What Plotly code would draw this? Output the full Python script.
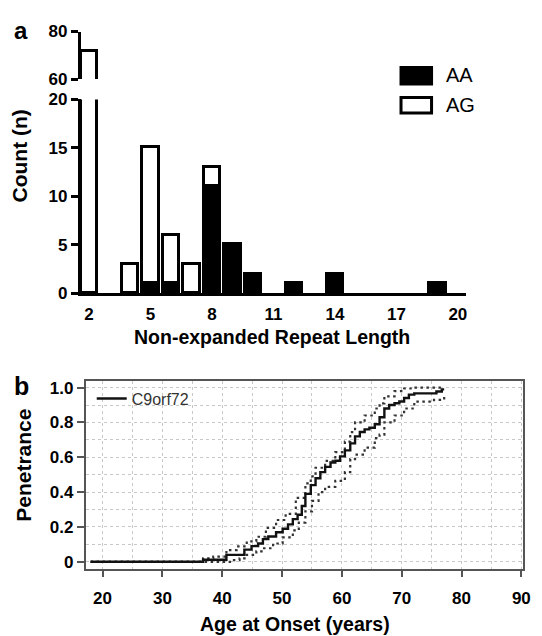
import plotly.graph_objects as go

# ---------------- data ----------------
# panel a: counts by non-expanded repeat length
repeat_len = [2, 4, 5, 6, 7, 8, 9, 10, 12, 14, 19]
count_aa = [None, None, 1, 1, None, 11, 5, 2, 1, 2, 1]
count_ag = [72, 3, 14, 5, 3, 2, None, None, None, None, None]
a_xticks = [2, 5, 8, 11, 14, 17, 20]
a_yticks_low = [0, 5, 10, 15, 20]
a_yticks_high = [60, 80]

# panel b: penetrance (Kaplan-Meier style) with confidence band
age_est = [18, 36.8, 40.7, 43.7, 44.9, 46.0, 46.8, 47.7, 49.0, 50.1, 51.0, 51.8,
           52.6, 53.3, 53.9, 54.8, 55.6, 56.4, 57.2, 58.1, 58.9, 59.7, 60.5, 61.4,
           62.2, 63.0, 63.8, 64.6, 65.5, 66.3, 67.1, 67.9, 68.8, 69.6, 70.4, 71.2,
           72.1, 75.8, 76.7, 77.1]
pen_est = [0, 0.012, 0.04, 0.07, 0.09, 0.105, 0.13, 0.145, 0.17, 0.19, 0.215, 0.245,
           0.27, 0.32, 0.39, 0.44, 0.48, 0.515, 0.545, 0.57, 0.58, 0.605, 0.64, 0.68,
           0.72, 0.745, 0.76, 0.77, 0.79, 0.83, 0.88, 0.90, 0.91, 0.92, 0.94, 0.96,
           0.967, 0.978, 0.99, 0.99]
age_up = [18, 36.8, 38.5, 40.7, 42.4, 44.1, 45.7, 47.3, 49.0, 50.6, 52.3, 53.9, 54.8,
          55.6, 57.2, 58.9, 60.5, 61.4, 62.2, 63.8, 65.5, 66.3, 67.1, 68.8, 70.4, 72.1, 77.1]
pen_up = [0, 0.02, 0.03, 0.067, 0.089, 0.117, 0.144, 0.195, 0.24, 0.275, 0.367, 0.45, 0.49,
          0.54, 0.58, 0.63, 0.69, 0.745, 0.8, 0.84, 0.88, 0.91, 0.95, 0.98, 0.995, 1.0, 1.0]
age_lo = [18, 41.3, 42.9, 44.1, 45.7, 46.8, 48.5, 50.1, 51.8, 52.8, 53.9, 55.0, 56.1,
          57.2, 58.9, 60.5, 61.4, 62.2, 63.8, 65.5, 66.3, 67.1, 68.8, 70.4, 72.1, 75.4, 77.1]
pen_lo = [0, 0.01, 0.02, 0.04, 0.06, 0.078, 0.105, 0.14, 0.18, 0.225, 0.29, 0.35, 0.4,
          0.43, 0.465, 0.515, 0.59, 0.615, 0.655, 0.71, 0.73, 0.8, 0.84, 0.88, 0.92, 0.93, 0.95]
b_xticks = [20, 30, 40, 50, 60, 70, 80, 90]
b_yticks = [0, 0.2, 0.4, 0.6, 0.8, 1.0]
b_yticklabels = ["0", "0.2", "0.4", "0.6", "0.8", "1.0"]

# ---------------- layout helpers ----------------
# the page body has an 8px margin, so the figure is drawn 8px smaller and
# all positions below are given in window pixels
OFF = 8
W, H = 542 - OFF, 636 - OFF
FONT = "Liberation Sans, Arial, sans-serif"


def px(x):
    return (x - OFF) / W


def py(y):
    return 1 - (y - OFF) / H


fig = go.Figure()

bar_line = dict(color="black", width=3)
for xa, ya in (("x", "y"), ("x2", "y2")):
    fig.add_trace(go.Bar(x=repeat_len, y=count_aa, width=0.8, name="AA",
                         marker=dict(color="black", line=bar_line),
                         xaxis=xa, yaxis=ya, showlegend=False))
    fig.add_trace(go.Bar(x=repeat_len, y=count_ag, width=0.8, name="AG",
                         marker=dict(color="white", line=bar_line),
                         xaxis=xa, yaxis=ya, showlegend=False))

dot_style = dict(color="#333333", width=2.2, dash="2.5px,3.5px", shape="hv")
fig.add_trace(go.Scatter(x=age_up, y=pen_up, mode="lines", line=dot_style,
                         xaxis="x3", yaxis="y3", showlegend=False, name="upper"))
fig.add_trace(go.Scatter(x=age_lo, y=pen_lo, mode="lines", line=dot_style,
                         xaxis="x3", yaxis="y3", showlegend=False, name="lower"))
fig.add_trace(go.Scatter(x=age_est, y=pen_est, mode="lines", name="C9orf72",
                         line=dict(color="#111111", width=2.4, shape="hv"),
                         xaxis="x3", yaxis="y3", showlegend=True))

tickfont = dict(family=FONT, size=17, color="black", weight="bold")
a_xdom = [px(82), px(473)]
b_grid = dict(showgrid=True, gridcolor="#c8c8c8", griddash="dot", gridwidth=1)

fig.update_layout(
    width=W, height=H, autosize=False,
    margin=dict(l=0, r=0, t=0, b=0, pad=0),
    paper_bgcolor="white", plot_bgcolor="white",
    barmode="stack", bargap=0,
    font=dict(family=FONT, color="black"),
    xaxis=dict(domain=a_xdom, anchor="y", range=[1.6, 20.4],
               tickvals=a_xticks, ticks="outside", ticklen=3,
               tickcolor="rgba(0,0,0,0)", tickfont=tickfont,
               showline=True, linecolor="black", linewidth=3,
               showgrid=False, zeroline=False),
    yaxis=dict(domain=[py(293), py(93)], anchor="x", range=[0, 20],
               tickvals=a_yticks_low, ticks="outside", ticklen=7, tickwidth=3,
               tickcolor="black", tickfont=tickfont,
               showline=True, linecolor="black", linewidth=3,
               showgrid=False, zeroline=False),
    xaxis2=dict(domain=a_xdom, anchor="y2", range=[1.6, 20.4],
                visible=False),
    yaxis2=dict(domain=[py(72), py(23)], anchor="x2", range=[60, 80],
                tickvals=a_yticks_high, ticks="outside", ticklen=7, tickwidth=3,
                tickcolor="black", tickfont=tickfont,
                showline=True, linecolor="black", linewidth=3,
                showgrid=False, zeroline=False),
    xaxis3=dict(domain=[px(87), px(531)], anchor="y3", range=[17.2, 90.3],
                tickvals=b_xticks, ticks="outside", ticklen=6, tickwidth=1.5,
                tickcolor="#555555", tickfont=tickfont, ticklabelstandoff=7,
                showline=True, mirror=True, linecolor="#555555", linewidth=2,
                zeroline=False,
                minor=dict(tickvals=[25, 35, 45, 55, 65, 75, 85], ticks="",
                           **b_grid),
                **b_grid),
    yaxis3=dict(domain=[py(577), py(383)], anchor="x3", range=[-0.04, 1.04],
                tickvals=b_yticks, ticktext=b_yticklabels, ticks="outside",
                ticklen=7, tickwidth=1.5, tickcolor="#555555", tickfont=tickfont,
                showline=True, mirror=True, linecolor="#555555", linewidth=2,
                zeroline=False,
                minor=dict(tickvals=[0.1, 0.3, 0.5, 0.7, 0.9], ticks="",
                           **b_grid),
                **b_grid),
    legend=dict(x=px(93), y=py(384), xanchor="left", yanchor="top",
                bgcolor="rgba(0,0,0,0)", borderwidth=0,
                font=dict(family=FONT, size=16, color="#333333")),
)

title_font = dict(family=FONT, size=19.5, color="black", weight="bold")
ytitle_font = dict(family=FONT, size=21, color="black", weight="bold")
annotations = [
    dict(text="a", x=px(21), y=py(22), font=dict(family=FONT, size=24, color="black", weight="bold")),
    dict(text="b", x=px(22), y=py(388), font=dict(family=FONT, size=25, color="black", weight="bold")),
    dict(text="Count (n)", x=px(20), y=py(151), textangle=-90, font=ytitle_font),
    dict(text="Non-expanded Repeat Length", x=px(276), y=py(338), font=title_font),
    dict(text="Penetrance", x=px(23), y=py(470), textangle=-90, font=ytitle_font),
    dict(text="Age at Onset (years)", x=px(299), y=py(634), font=title_font),
    dict(text="AA", x=px(451), y=py(68), xanchor="left",
         font=dict(family=FONT, size=20, color="black")),
    dict(text="AG", x=px(451), y=py(99), xanchor="left",
         font=dict(family=FONT, size=20, color="black")),
]
for a in annotations:
    a.setdefault("xanchor", "center")
    a.update(xref="paper", yref="paper", yanchor="middle", showarrow=False)
    fig.add_annotation(**a)

# legend boxes for panel a
fig.add_shape(type="rect", xref="paper", yref="paper",
              x0=px(407), x1=px(438), y0=py(60), y1=py(77),
              fillcolor="black", line=dict(color="black", width=3))
fig.add_shape(type="rect", xref="paper", yref="paper",
              x0=px(407), x1=px(438), y0=py(91), y1=py(107),
              fillcolor="white", line=dict(color="black", width=3))

fig.write_html("out.html")
